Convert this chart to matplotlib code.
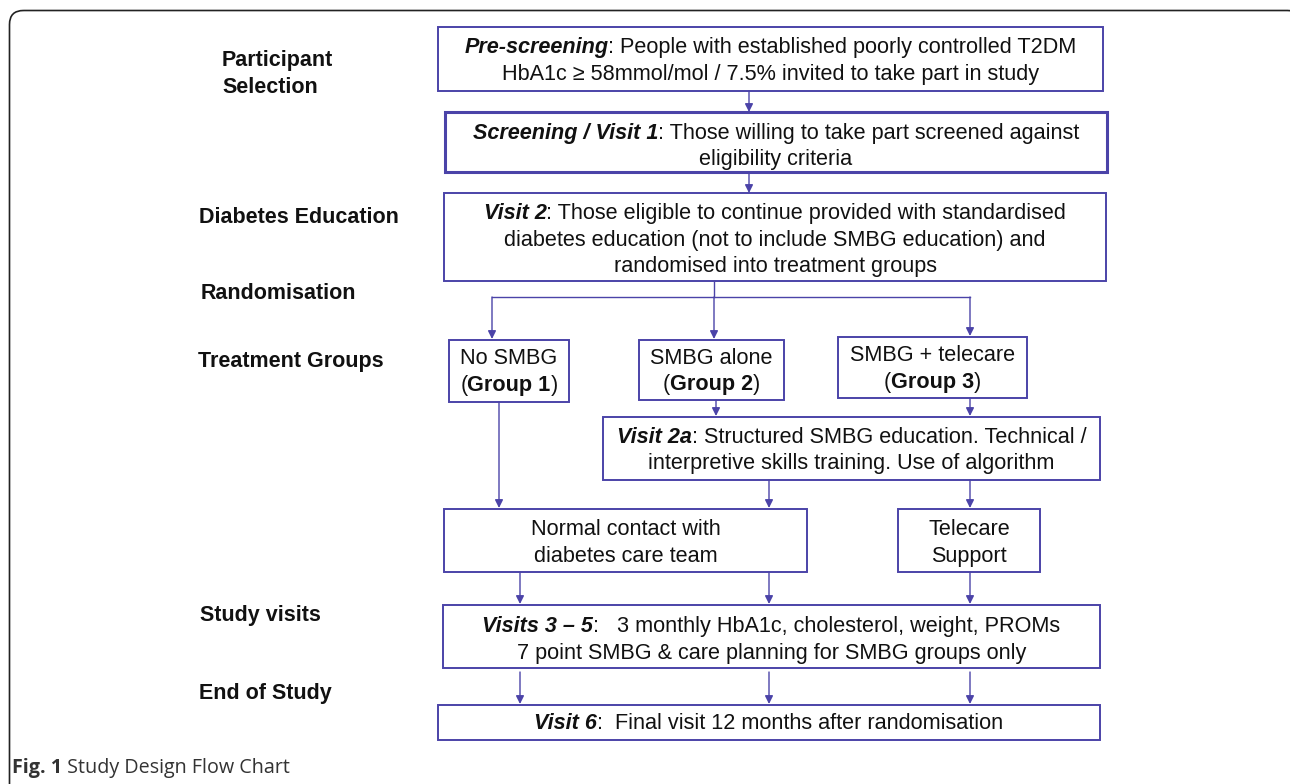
import matplotlib.pyplot as plt
from matplotlib.patches import Rectangle, FancyBboxPatch

# ---------------------------------------------------------------------------
# content of the flow chart
# each box line is a list of (text, bold, italic) parts
prescreen_lines = [
    [("Pre-screening", True, True), (": People with established poorly controlled T2DM", False, False)],
    [("HbA1c \u2265 58mmol/mol / 7.5% invited to take part in study", False, False)],
]
screening_lines = [
    [("Screening / Visit 1", True, True), (": Those willing to take part screened against", False, False)],
    [("eligibility criteria", False, False)],
]
visit2_lines = [
    [("Visit 2", True, True), (": Those eligible to continue provided with standardised", False, False)],
    [("diabetes education (not to include SMBG education) and", False, False)],
    [("randomised into treatment groups", False, False)],
]
group1_lines = [[("No SMBG", False, False)], [("(", False, False), ("Group 1", True, False), (")", False, False)]]
group2_lines = [[("SMBG alone", False, False)], [("(", False, False), ("Group 2", True, False), (")", False, False)]]
group3_lines = [[("SMBG + telecare", False, False)], [("(", False, False), ("Group 3", True, False), (")", False, False)]]
visit2a_lines = [
    [("Visit 2a", True, True), (": Structured SMBG education. Technical /", False, False)],
    [("interpretive skills training. Use of algorithm", False, False)],
]
normal_lines = [[("Normal contact with", False, False)], [("diabetes care team", False, False)]]
telecare_lines = [[("Telecare", False, False)], [("Support", False, False)]]
visits35_lines = [
    [("Visits 3 \u2013 5", True, True), (":   3 monthly HbA1c, cholesterol, weight, PROMs", False, False)],
    [("7 point SMBG & care planning for SMBG groups only", False, False)],
]
visit6_lines = [[("Visit 6", True, True), (":  Final visit 12 months after randomisation", False, False)]]

stage_labels = ["Participant\nSelection", "Diabetes Education", "Randomisation",
                "Treatment Groups", "Study visits", "End of Study"]
caption_bold = "Fig. 1"
caption_text = " Study Design Flow Chart"

# ---------------------------------------------------------------------------
# layout (pixel coordinates, y down)
W, H = 1290, 784
EDGE = '#4B43A8'
FONT = 'Liberation Sans'

# box: (x0, y0, x1, y1, line centre ys, lines, linewidth)
boxes = [
    (438, 27, 1103, 91, [46, 73], prescreen_lines, 1.4),
    (445, 112, 1107, 172, [132, 158], screening_lines, 2.2),
    (444, 193, 1106, 281, [212, 239, 265], visit2_lines, 1.4),
    (449, 340, 569, 402, [357, 384], group1_lines, 1.4),
    (639, 340, 784, 400, [357, 383], group2_lines, 1.4),
    (838, 337, 1027, 398, [354, 381], group3_lines, 1.4),
    (603, 417, 1100, 480, [436, 462], visit2a_lines, 1.4),
    (444, 509, 807, 572, [528, 555], normal_lines, 1.4),
    (898, 509, 1040, 572, [528, 555], telecare_lines, 1.4),
    (443, 605, 1100, 668, [625, 652], visits35_lines, 1.4),
    (438, 705, 1100, 740, [722], visit6_lines, 1.4),
]
label_pos = [(222, 74), (199, 217), (201, 293), (198, 361), (200, 616), (199, 694)]

# arrows: (x, y_start, y_end)
arrows = [
    (749, 91, 112), (749, 172, 193),
    (492, 297, 339), (714, 297, 339), (970, 297, 336),
    (716, 400, 416), (970, 398, 416),
    (499, 402, 508), (769, 480, 508), (970, 480, 508),
    (520, 572, 604), (769, 572, 604), (970, 572, 604),
    (520, 672, 704), (769, 672, 704), (970, 672, 704),
]

fig = plt.figure(figsize=(W / 100, H / 100), dpi=100)
ax = fig.add_axes([0, 0, 1, 1])
ax.set_xlim(0, W)
ax.set_ylim(H, 0)
ax.axis('off')
renderer = fig.canvas.get_renderer()


def rich_line(xc, yc, parts, size=15.6):
    texts = []
    for s, bold, italic in parts:
        t = ax.text(0, yc + 7, s, fontsize=size, family=FONT, color='#111111',
                    fontweight='bold' if bold else 'normal',
                    fontstyle='italic' if italic else 'normal',
                    ha='left', va='baseline')
        texts.append(t)
    widths = [t.get_window_extent(renderer).width for t in texts]
    cur = xc - sum(widths) / 2
    for t, w in zip(texts, widths):
        t.set_x(cur)
        cur += w


# outer frame, runs off the right and bottom edges
frame = FancyBboxPatch((9.5, 10.5), 1292, 820, boxstyle='round,pad=0,rounding_size=14',
                       fc='none', ec='#222222', lw=1.2, clip_on=True)
ax.add_patch(frame)

for x0, y0, x1, y1, ys, lines, lw in boxes:
    ax.add_patch(Rectangle((x0, y0), x1 - x0, y1 - y0, fc='white', ec=EDGE, lw=lw))
    for yc, parts in zip(ys, lines):
        rich_line((x0 + x1) / 2, yc, parts)

# randomisation branch
ax.plot([714, 714], [281, 297], color=EDGE, lw=1)
ax.plot([492, 970], [297, 297], color=EDGE, lw=1)

for x, ya, yb in arrows:
    ax.annotate('', xy=(x, yb), xytext=(x, ya),
                arrowprops=dict(arrowstyle='-|>', color=EDGE, lw=1,
                                mutation_scale=12, shrinkA=0, shrinkB=0))

for lab, (x, y) in zip(stage_labels, label_pos):
    ax.text(x, y, lab, fontsize=15.5, family=FONT, fontweight='bold', color='#111111',
            ha='left', va='center', linespacing=1.35)

cap = ax.text(12, 773, caption_bold, fontsize=14.2, family='Open Sans', fontweight='bold',
              color='#333333', ha='left', va='baseline')
cw = cap.get_window_extent(renderer).width
ax.text(12 + cw, 773, caption_text, fontsize=14.2, family='Open Sans',
        color='#333333', ha='left', va='baseline')

fig.savefig('out.png', dpi=100)
